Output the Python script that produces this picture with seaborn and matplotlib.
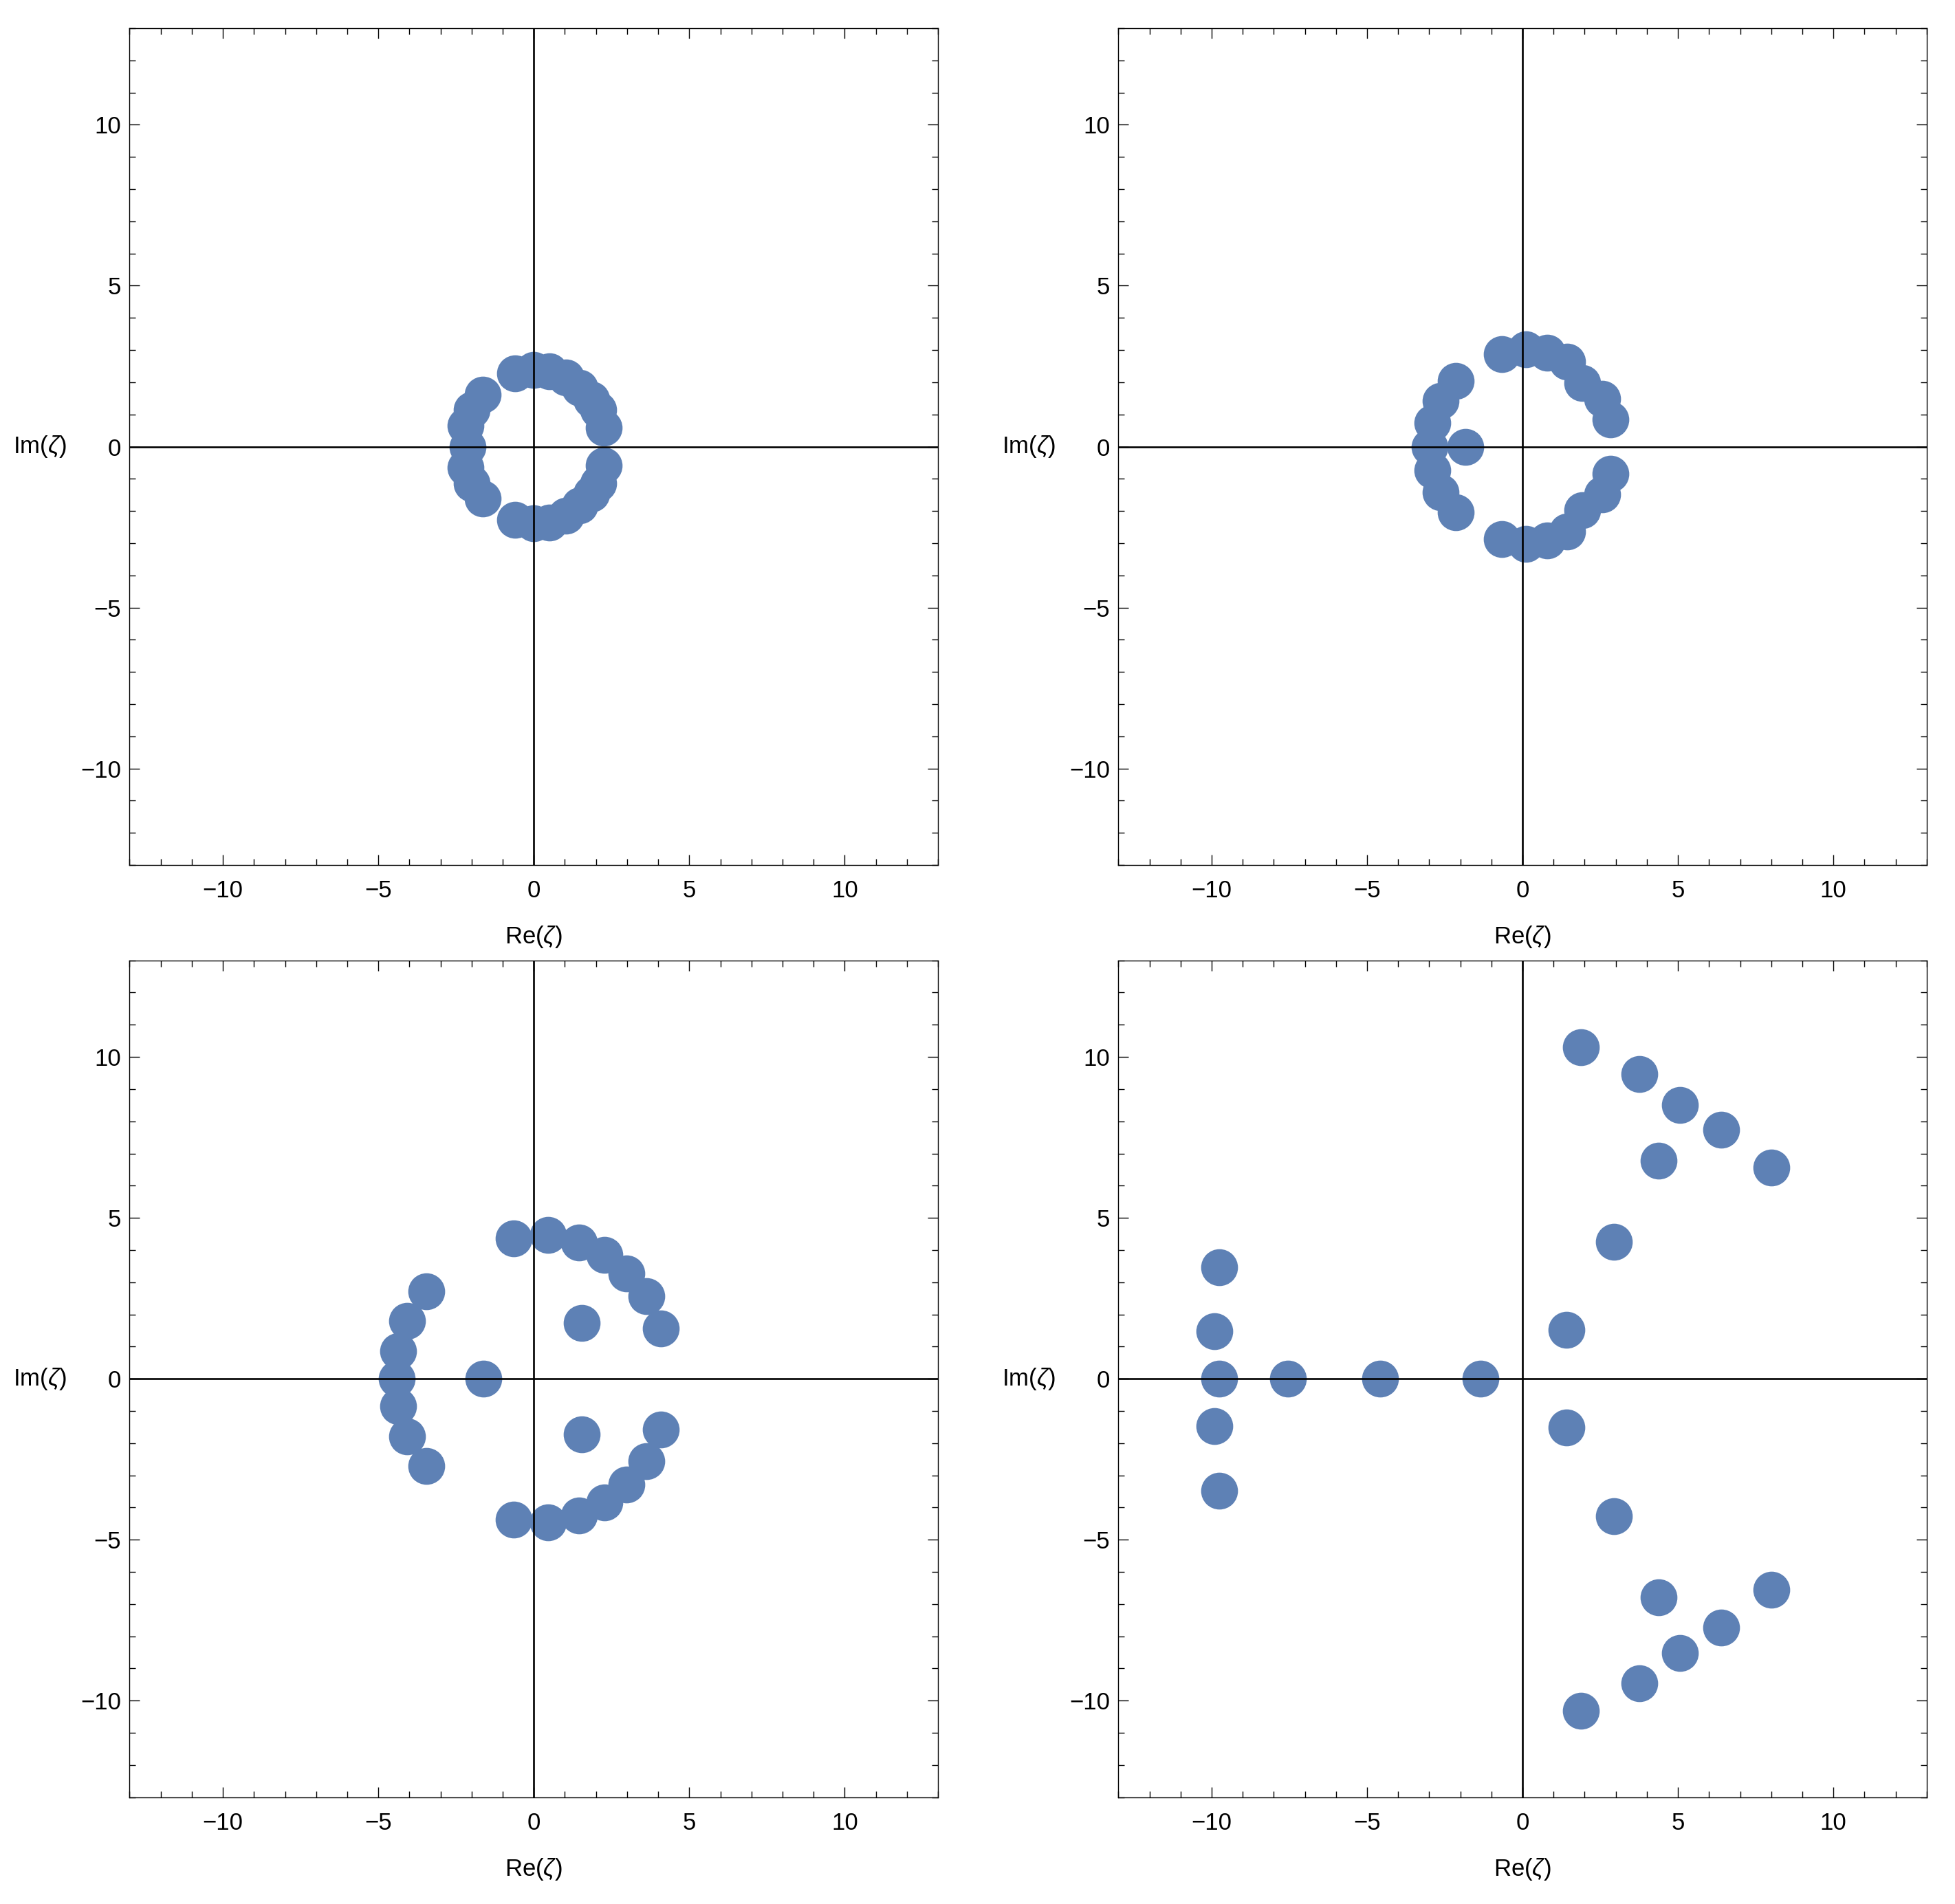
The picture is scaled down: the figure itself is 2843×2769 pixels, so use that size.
# Zeros in the complex zeta-plane, four panels

import matplotlib.pyplot as plt
import pandas as pd
import seaborn as sns
from matplotlib.ticker import MultipleLocator

# panel 1 - small ring
re_1 = [-0.61, 0.0, 0.50, 1.03, 1.48, 1.85, 2.07, 2.24, -1.64, -1.99, -2.19, -2.13,
        -0.61, 0.0, 0.50, 1.03, 1.48, 1.85, 2.07, 2.24, -1.64, -1.99, -2.19]
im_1 = [2.28, 2.38, 2.35, 2.15, 1.83, 1.47, 1.15, 0.58, 1.62, 1.15, 0.65, 0.0,
        -2.28, -2.38, -2.35, -2.15, -1.83, -1.47, -1.15, -0.58, -1.62, -1.15, -0.65]

# panel 2
re_2 = [-0.67, 0.10, 0.80, 1.44, 1.92, 2.56, 2.84, -2.15, -2.64, -2.90, -2.99, -1.83,
        -0.67, 0.10, 0.80, 1.44, 1.92, 2.56, 2.84, -2.15, -2.64, -2.90]
im_2 = [2.88, 3.02, 2.92, 2.63, 1.97, 1.49, 0.84, 2.03, 1.42, 0.73, 0.0, 0.0,
        -2.88, -3.02, -2.92, -2.63, -1.97, -1.49, -0.84, -2.03, -1.42, -0.73]

# panel 3
re_3 = [-0.65, 0.47, 1.45, 2.27, 2.99, 3.63, 4.09, 1.55, -3.45, -4.08, -4.36, -4.40, -1.63,
        -0.65, 0.47, 1.45, 2.27, 2.99, 3.63, 4.09, 1.55, -3.45, -4.08, -4.36]
im_3 = [4.37, 4.47, 4.24, 3.84, 3.28, 2.56, 1.57, 1.73, 2.71, 1.79, 0.85, 0.0, 0.0,
        -4.37, -4.47, -4.24, -3.84, -3.28, -2.56, -1.57, -1.73, -2.71, -1.79, -0.85]

# panel 4 - spread out
re_4 = [1.87, 3.75, 5.06, 6.40, 8.01, 4.37, 2.93, 1.42, -9.75, -9.92,
        -9.75, -7.54, -4.58, -1.34,
        1.87, 3.75, 5.06, 6.40, 8.01, 4.37, 2.93, 1.42, -9.75, -9.92]
im_4 = [10.31, 9.46, 8.51, 7.74, 6.56, 6.78, 4.26, 1.52, 3.47, 1.47,
        0.0, 0.0, 0.0, 0.0,
        -10.31, -9.46, -8.51, -7.74, -6.56, -6.78, -4.26, -1.52, -3.47, -1.47]

tick_labels = [-10, -5, 0, 5, 10]
POINT_COLOR = "#5E81B5"

sns.set_theme(style="ticks")
plt.rcParams["font.family"] = ["Liberation Sans", "DejaVu Sans"]
plt.rcParams["mathtext.fontset"] = "custom"
plt.rcParams["mathtext.rm"] = "Liberation Sans"
plt.rcParams["mathtext.it"] = "Liberation Sans:italic"

fig = plt.figure(figsize=(14.215, 13.845), dpi=200)

# axes boxes in figure fractions (left, bottom)
w, h = 0.41347, 0.43951
boxes = [(0.06630, 0.54568), (0.57204, 0.54568), (0.06630, 0.05609), (0.57204, 0.05609)]
panels = [(re_1, im_1), (re_2, im_2), (re_3, im_3), (re_4, im_4)]

for (left, bottom), (re, im) in zip(boxes, panels):
    ax = fig.add_axes([left, bottom, w, h])
    df = pd.DataFrame({"re": re, "im": im})
    sns.scatterplot(data=df, x="re", y="im", ax=ax, color=POINT_COLOR,
                    s=373, linewidth=0, alpha=1, zorder=2)

    # coordinate axes through the origin, drawn over the points
    ax.axhline(0, color="black", lw=0.95, zorder=3)
    ax.axvline(0, color="black", lw=0.95, zorder=3)

    ax.set_xlim(-13, 13)
    ax.set_ylim(-13, 13)
    ax.xaxis.set_minor_locator(MultipleLocator(1))
    ax.yaxis.set_minor_locator(MultipleLocator(1))
    ax.set_xticks(tick_labels)
    ax.set_yticks(tick_labels)

    ax.tick_params(which="both", direction="in", top=True, right=True,
                   color="black", width=0.5, labelsize=12.5, labelcolor="black")
    ax.tick_params(which="major", length=5.5)
    ax.tick_params(which="minor", length=3.4)
    ax.tick_params(axis="x", which="major", pad=7.5)
    ax.tick_params(axis="y", which="major", pad=4.5)

    for sp in ax.spines.values():
        sp.set_color("black")
        sp.set_linewidth(0.5)

    ax.set_xlabel(r"Re($\zeta$)", fontsize=12.5, color="black", va="center")
    ax.set_ylabel(r"Im($\zeta$)", fontsize=12.5, color="black", rotation=0,
                  ha="center", va="center")
    ax.xaxis.set_label_coords(0.5, -0.086)
    ax.yaxis.set_label_coords(-0.111, 0.5)

fig.savefig("out.png", dpi=200, facecolor="white")
